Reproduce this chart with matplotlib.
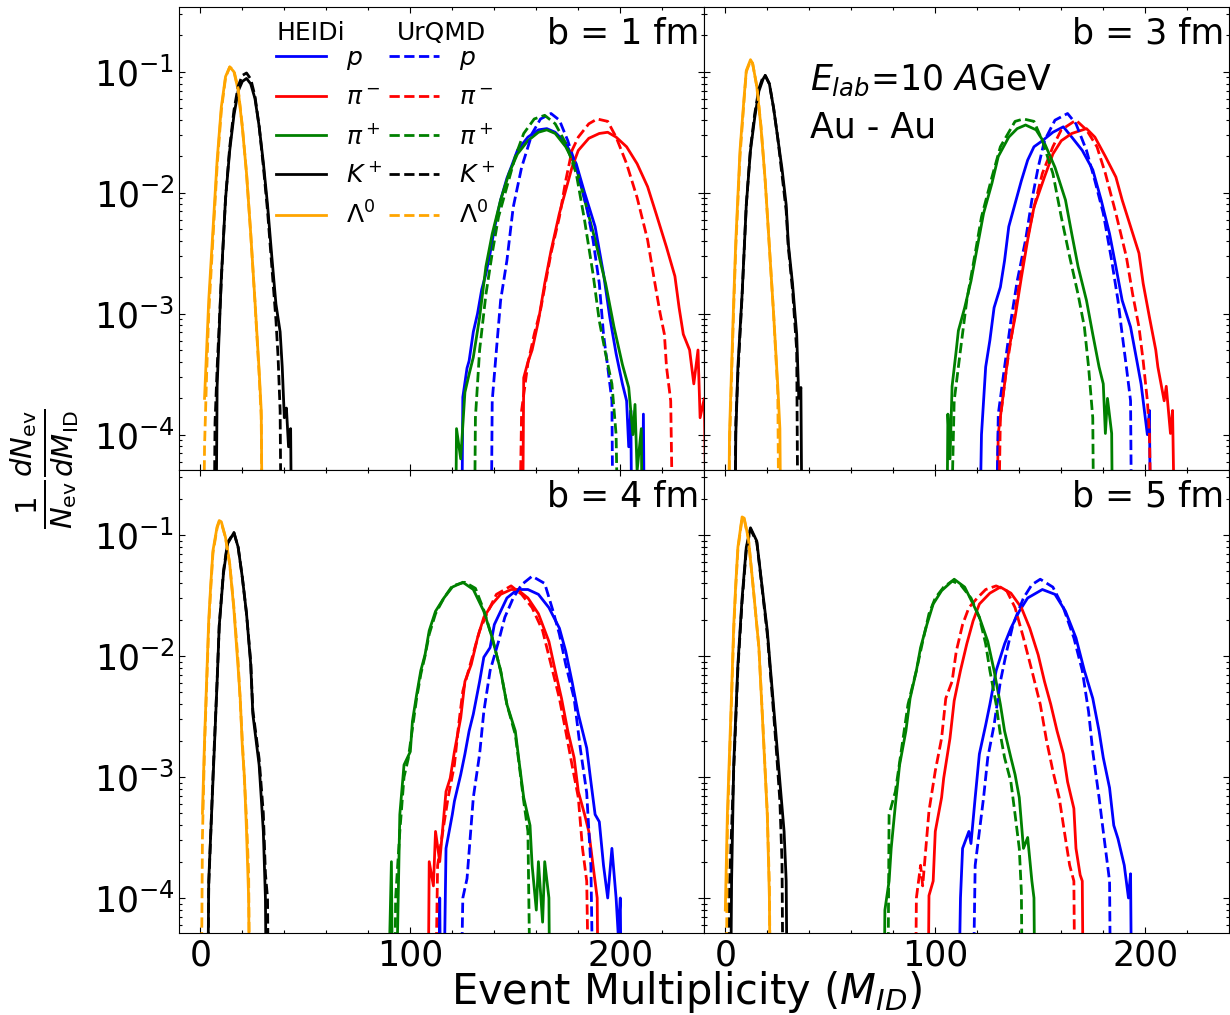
import numpy as np
import matplotlib
matplotlib.use("Agg")
import matplotlib.pyplot as plt
from matplotlib.ticker import MultipleLocator, LogLocator, NullFormatter

# (multiplicity, log10 of 1/N dN/dM); -6 = empty bin (drops below axis)

# ---- b = 1 fm ----
b1_p_heidi = [(124, -6), (125, -3.69), (127, -3.45), (128, -3.39), (130, -3.15), (132, -3.0), (134, -2.8),
              (136, -2.67), (138, -2.5), (140, -2.3), (143, -2.06), (146, -1.88), (148, -1.79), (151, -1.65),
              (156, -1.54), (161, -1.48), (165, -1.47), (169, -1.50), (174, -1.59), (179, -1.76), (183, -2.0),
              (188, -2.28), (192, -2.67), (195, -3.03), (198, -3.33), (201, -3.58), (203, -3.72), (204, -4.1),
              (205, -3.8), (206, -6), (210, -6), (211, -3.83), (212, -6)]
b1_pim_heidi = [(153, -6), (154, -3.53), (156, -3.4), (158, -3.30), (161, -3.06), (164, -2.75), (167, -2.48),
                (171, -2.17), (174, -1.98), (177, -1.79), (180, -1.65), (185, -1.55), (190, -1.51), (194, -1.50),
                (198, -1.54), (203, -1.62), (208, -1.76), (213, -1.95), (217, -2.17), (222, -2.45), (226, -2.69),
                (228, -2.95), (230, -3.17), (233, -3.30), (235, -3.58), (237, -3.3), (238, -3.86), (240, -3.7),
                (242, -6)]
b1_pip_heidi = [(121, -6), (122, -3.95), (124, -4.2), (126, -3.65), (128, -3.5), (130, -3.36), (133, -3.03),
                (136, -2.61), (139, -2.34), (143, -2.06), (147, -1.84), (151, -1.68), (156, -1.57), (161, -1.50),
                (165, -1.48), (169, -1.51), (174, -1.62), (179, -1.79), (183, -2.06), (188, -2.39), (193, -2.75),
                (197, -3.11), (201, -3.42), (204, -3.61), (206, -4.0), (207, -3.75), (208, -4.3), (210, -3.95),
                (211, -6)]
b1_k_heidi = [(7, -6), (8, -3.6), (9, -3.15), (10, -2.7), (12, -2.05), (14, -1.65), (16, -1.36), (18, -1.16),
              (20, -1.08), (22, -1.055), (24, -1.10), (26, -1.22), (28, -1.45), (30, -1.75), (32, -2.1),
              (34, -2.52), (36, -2.92), (38, -3.15), (39, -3.44), (40, -3.86), (41, -3.78), (42, -4.1),
              (43, -3.95), (44, -6)]
b1_lam_heidi = [(2, -3.7), (4, -2.89), (6, -2.31), (8, -1.73), (10, -1.29), (12, -1.04), (14, -0.96), (16, -1.0),
                (18, -1.15), (20, -1.46), (22, -1.84), (24, -2.34), (26, -2.89), (28, -3.47), (29, -3.8), (30, -6)]
b1_p_urqmd = [(138, -6), (139, -3.72), (141, -3.30), (143, -2.89), (146, -2.56), (149, -2.12), (153, -1.79),
              (158, -1.51), (162, -1.39), (167, -1.345), (171, -1.40), (175, -1.57), (180, -1.84), (184, -2.12),
              (187, -2.39), (190, -2.75), (192, -3.17), (194, -3.44), (196, -3.72), (197, -6)]
b1_pim_urqmd = [(151, -6), (153, -3.8), (156, -3.41), (159, -3.17), (162, -2.97), (164, -2.78), (167, -2.50),
                (171, -2.20), (174, -1.90), (177, -1.65), (180, -1.54), (185, -1.43), (189, -1.39), (194, -1.41),
                (198, -1.54), (203, -1.76), (208, -2.04), (213, -2.39), (216, -2.70), (219, -3.0), (221, -3.17),
                (222, -3.44), (224, -3.72), (226, -6)]
b1_pip_urqmd = [(130, -6), (131, -3.86), (133, -3.30), (136, -2.84), (139, -2.50), (142, -2.20), (146, -1.95),
                (150, -1.70), (154, -1.51), (159, -1.39), (164, -1.36), (169, -1.43), (174, -1.59), (179, -1.84),
                (183, -2.23), (187, -2.67), (190, -3.06), (193, -3.33), (196, -3.58), (198, -4.0), (200, -6)]
b1_k_urqmd = [(6, -6), (7, -3.9), (8, -3.45), (10, -2.72), (12, -2.05), (14, -1.62), (16, -1.32), (18, -1.12),
              (20, -1.03), (22, -1.01), (24, -1.06), (26, -1.2), (28, -1.45), (30, -1.78), (32, -2.15),
              (34, -2.6), (36, -3.05), (37, -3.35), (38, -3.8), (39, -6)]
b1_lam_urqmd = [(1, -6), (2, -4.1), (3, -3.5), (4, -3.0), (6, -2.38), (8, -1.78), (10, -1.32), (12, -1.05),
                (14, -0.96), (16, -0.99), (18, -1.14), (20, -1.45), (22, -1.84), (24, -2.34), (26, -2.9),
                (28, -3.5), (29, -3.85), (30, -6)]

# ---- b = 3 fm ----
b3_p_heidi = [(120, -6), (122, -4.0), (124, -3.44), (126, -3.22), (128, -2.95), (131, -2.78), (133, -2.56),
              (135, -2.28), (138, -2.09), (141, -1.90), (144, -1.73), (147, -1.62), (151, -1.57), (156, -1.50),
              (161, -1.455), (165, -1.54), (170, -1.65), (175, -1.81), (179, -2.06), (183, -2.34), (186, -2.61),
              (189, -2.89), (193, -3.11), (196, -3.39), (198, -3.58), (201, -4.0), (202, -3.8), (203, -6)]
b3_pim_heidi = [(128, -6), (130, -3.99), (133, -3.58), (135, -3.30), (138, -3.03), (141, -2.70), (144, -2.39),
                (147, -2.12), (152, -1.87), (156, -1.68), (160, -1.57), (165, -1.51), (172, -1.47), (176, -1.54),
                (181, -1.70), (186, -1.87), (189, -2.06), (193, -2.28), (197, -2.50), (199, -2.75), (202, -3.03),
                (205, -3.30), (206, -3.44), (209, -3.72), (210, -3.6), (212, -3.99), (213, -3.8), (215, -6)]
b3_pip_heidi = [(105, -6), (106, -3.83), (107, -4.2), (108, -3.6), (110, -3.3), (111, -3.14), (114, -2.95),
                (117, -2.73), (120, -2.45), (123, -2.17), (127, -1.92), (130, -1.70), (135, -1.54), (139, -1.47),
                (143, -1.44), (148, -1.48), (152, -1.59), (157, -1.79), (162, -2.06), (165, -2.34), (168, -2.61),
                (172, -2.89), (175, -3.17), (178, -3.44), (180, -3.58), (181, -3.99), (182, -3.7), (184, -3.99),
                (185, -6)]
b3_k_heidi = [(4, -6), (5, -4.0), (6, -3.44), (8, -2.84), (10, -2.1), (12, -1.65), (14, -1.38), (16, -1.16),
              (18, -1.06), (19, -1.03), (21, -1.1), (23, -1.3), (25, -1.55), (27, -1.8), (29, -2.1), (30, -2.42),
              (32, -2.75), (34, -3.17), (35, -3.7), (36, -3.61), (37, -6)]
b3_lam_heidi = [(1, -6), (2, -3.99), (4, -2.89), (5, -2.4), (7, -1.65), (9, -1.2), (10, -0.99), (12, -0.90),
                (13, -0.93), (15, -1.12), (17, -1.46), (19, -1.9), (21, -2.45), (23, -3.0), (25, -3.6), (26, -3.95),
                (27, -6)]
b3_p_urqmd = [(128, -6), (130, -3.83), (133, -3.44), (136, -3.06), (139, -2.73), (143, -2.39), (146, -2.06),
              (149, -1.79), (152, -1.57), (157, -1.40), (163, -1.345), (167, -1.43), (172, -1.65), (176, -1.90),
              (180, -2.17), (184, -2.56), (187, -2.89), (189, -3.17), (191, -3.44), (193, -3.72), (194, -6)]
b3_pim_urqmd = [(129, -6), (131, -3.86), (134, -3.44), (137, -3.11), (140, -2.75), (143, -2.45), (147, -2.12),
                (151, -1.84), (156, -1.62), (160, -1.48), (167, -1.40), (172, -1.48), (177, -1.62), (181, -1.84),
                (186, -2.17), (191, -2.53), (194, -2.84), (197, -3.11), (199, -3.39), (201, -3.72), (202, -4.0),
                (204, -6)]
b3_pip_urqmd = [(106, -6), (109, -3.72), (112, -3.30), (115, -2.89), (119, -2.50), (122, -2.20), (127, -1.87),
                (131, -1.62), (135, -1.50), (138, -1.41), (142, -1.39), (147, -1.41), (151, -1.57), (156, -1.84),
                (160, -2.20), (164, -2.53), (168, -2.84), (171, -3.11), (173, -3.44), (175, -3.86), (176, -6)]
b3_k_urqmd = [(4, -6), (5, -3.9), (6, -3.5), (8, -2.85), (10, -2.1), (12, -1.63), (14, -1.35), (16, -1.14),
              (18, -1.04), (19, -1.03), (21, -1.1), (23, -1.3), (25, -1.55), (27, -1.85), (29, -2.15), (30, -2.45),
              (32, -2.8), (34, -3.3), (35, -6)]
b3_lam_urqmd = [(1, -6), (2, -4.1), (4, -2.95), (5, -2.45), (7, -1.7), (9, -1.22), (10, -1.0), (12, -0.91),
                (13, -0.93), (15, -1.12), (17, -1.45), (19, -1.9), (21, -2.45), (23, -3.0), (25, -3.65), (26, -6)]

# ---- b = 4 fm ----
b4_p_heidi = [(113, -6), (114, -4.0), (115, -6), (117, -3.59), (120, -3.31), (121, -3.20), (124, -2.98),
              (126, -2.81), (128, -2.62), (130, -2.48), (133, -2.21), (135, -2.01), (138, -1.93), (140, -1.74),
              (143, -1.63), (146, -1.52), (151, -1.45), (156, -1.45), (161, -1.49), (166, -1.60), (171, -1.77),
              (174, -1.96), (177, -2.21), (180, -2.48), (184, -2.76), (186, -3.04), (188, -3.31), (190, -3.37),
              (192, -3.73), (194, -4.0), (196, -3.59), (198, -4.0), (199, -4.3), (200, -4.0), (201, -6)]
b4_pim_heidi = [(108, -6), (109, -3.70), (111, -3.9), (112, -3.45), (114, -3.7), (117, -3.12), (119, -3.01),
                (121, -2.79), (124, -2.51), (126, -2.21), (129, -2.07), (132, -1.85), (135, -1.68), (139, -1.57),
                (143, -1.49), (148, -1.45), (151, -1.45), (156, -1.52), (161, -1.65), (166, -1.88), (169, -2.12),
                (172, -2.35), (175, -2.62), (178, -2.84), (180, -3.12), (183, -3.31), (185, -3.45), (187, -3.73),
                (189, -4.0), (190, -6)]
b4_pip_heidi = [(88, -6), (91, -3.70), (92, -6), (95, -3.31), (97, -2.90), (100, -2.79), (101, -2.54),
                (103, -2.32), (105, -2.12), (107, -1.99), (109, -1.79), (112, -1.63), (116, -1.52), (120, -1.43),
                (125, -1.39), (130, -1.45), (135, -1.63), (139, -1.85), (143, -2.12), (146, -2.40), (150, -2.62),
                (152, -2.90), (154, -3.17), (157, -3.40), (158, -3.73), (160, -4.1), (161, -3.7), (163, -4.2),
                (164, -3.7), (166, -4.0), (167, -6)]
b4_k_heidi = [(3, -6), (4, -3.86), (6, -3.04), (8, -2.21), (9, -1.75), (11, -1.32), (13, -1.07), (16, -0.98),
              (18, -1.10), (20, -1.35), (22, -1.65), (24, -2.07), (25, -2.48), (28, -2.90), (29, -3.17),
              (30, -3.45), (31, -4.0), (32, -6)]
b4_lam_heidi = [(1, -3.3), (2, -2.7), (3, -2.2), (4, -1.7), (5, -1.4), (6, -1.13), (8, -0.93), (9, -0.88),
                (10, -0.89), (12, -1.02), (14, -1.24), (16, -1.62), (18, -2.1), (19, -2.35), (20, -2.75),
                (21, -3.0), (22, -3.45), (23, -4.0), (24, -6)]
b4_p_urqmd = [(123, -6), (125, -4.0), (127, -3.84), (130, -3.17), (133, -2.81), (135, -2.46), (138, -2.12),
              (142, -1.88), (145, -1.68), (149, -1.52), (153, -1.41), (158, -1.34), (164, -1.40), (168, -1.63),
              (171, -1.82), (174, -2.07), (178, -2.35), (181, -2.77), (184, -3.13), (186, -3.74), (188, -6)]
b4_pim_urqmd = [(111, -6), (113, -3.73), (116, -3.39), (118, -3.17), (121, -2.90), (123, -2.57), (125, -2.29),
                (129, -2.04), (133, -1.79), (137, -1.63), (141, -1.49), (148, -1.42), (153, -1.49), (158, -1.60),
                (163, -1.79), (167, -2.07), (171, -2.35), (174, -2.62), (177, -2.90), (180, -3.17), (182, -3.59),
                (184, -3.86), (186, -6)]
b4_pip_urqmd = [(92, -6), (93, -4.0), (95, -3.45), (97, -3.0), (99, -2.85), (101, -2.6), (103, -2.35),
                (105, -2.15), (107, -2.0), (109, -1.82), (112, -1.65), (116, -1.52), (120, -1.42), (126, -1.39),
                (131, -1.44), (135, -1.62), (139, -1.85), (143, -2.12), (146, -2.40), (150, -2.65), (152, -2.92),
                (154, -3.2), (156, -3.45), (158, -6)]
b4_k_urqmd = [(3, -6), (4, -3.9), (6, -3.0), (8, -2.2), (9, -1.75), (11, -1.3), (13, -1.06), (16, -0.98),
              (18, -1.1), (20, -1.35), (22, -1.65), (24, -2.05), (25, -2.45), (28, -2.85), (30, -3.3), (31, -3.8),
              (32, -4.0), (33, -6)]
b4_lam_urqmd = [(0, -6), (1, -3.5), (2, -2.75), (3, -2.25), (4, -1.75), (5, -1.43), (6, -1.15), (8, -0.94),
                (9, -0.89), (10, -0.9), (12, -1.02), (14, -1.24), (16, -1.6), (18, -2.05), (20, -2.7), (22, -3.35),
                (23, -3.8), (24, -6)]

# ---- b = 5 fm ----
b5_p_heidi = [(110, -6), (112, -4.0), (113, -3.59), (116, -3.45), (117, -3.55), (119, -3.17), (121, -2.81),
              (124, -2.57), (126, -2.40), (129, -2.12), (133, -1.90), (136, -1.77), (140, -1.63), (144, -1.52),
              (151, -1.45), (157, -1.49), (162, -1.63), (167, -1.85), (171, -2.12), (175, -2.35), (178, -2.62),
              (180, -2.84), (183, -3.09), (185, -3.40), (187, -3.51), (190, -3.73), (192, -4.0), (193, -3.8),
              (194, -6)]
b5_pim_heidi = [(96, -6), (97, -3.98), (99, -3.86), (100, -3.45), (103, -3.17), (104, -3.01), (107, -2.68),
                (109, -2.37), (112, -2.12), (115, -1.90), (118, -1.71), (121, -1.57), (126, -1.48), (131, -1.43),
                (136, -1.48), (141, -1.60), (145, -1.77), (149, -1.99), (152, -2.21), (155, -2.40), (158, -2.62),
                (161, -2.81), (163, -3.04), (166, -3.26), (167, -3.59), (169, -3.81), (170, -3.86), (171, -6)]
b5_pip_heidi = [(75, -6), (76, -4.1), (78, -3.86), (79, -3.59), (81, -3.23), (83, -2.90), (86, -2.62),
                (88, -2.35), (91, -2.12), (93, -1.93), (96, -1.74), (99, -1.57), (103, -1.46), (109, -1.365),
                (114, -1.43), (118, -1.57), (121, -1.68), (125, -1.88), (128, -2.12), (131, -2.40), (133, -2.62),
                (136, -2.84), (138, -2.98), (140, -3.17), (142, -3.59), (144, -3.5), (146, -3.86), (147, -4.0),
                (148, -6)]
b5_k_heidi = [(2, -6), (3, -3.86), (4, -2.90), (6, -2.07), (8, -1.52), (10, -1.10), (12, -0.94), (15, -1.05),
              (17, -1.35), (20, -1.79), (22, -2.21), (24, -2.62), (26, -3.04), (28, -3.45), (29, -3.86), (30, -6)]
b5_lam_heidi = [(0, -4.1), (1, -3.3), (3, -2.3), (4, -1.75), (5, -1.4), (6, -1.1), (8, -0.85), (9, -0.86),
                (11, -1.03), (13, -1.38), (16, -1.93), (18, -2.62), (20, -3.31), (21, -4.0), (22, -6)]
b5_p_urqmd = [(117, -6), (119, -3.73), (121, -3.45), (123, -3.17), (125, -2.84), (128, -2.57), (131, -2.21),
              (134, -1.96), (137, -1.74), (142, -1.52), (146, -1.41), (150, -1.365), (156, -1.43), (161, -1.60),
              (166, -1.85), (170, -2.12), (173, -2.46), (175, -2.79), (178, -3.17), (180, -3.45), (183, -3.86),
              (184, -6)]
b5_pim_urqmd = [(90, -6), (91, -4.0), (93, -3.73), (94, -3.9), (97, -3.28), (100, -2.95), (103, -2.68),
                (105, -2.35), (108, -2.21), (110, -1.96), (113, -1.74), (116, -1.60), (120, -1.52), (124, -1.45),
                (129, -1.42), (134, -1.46), (138, -1.60), (142, -1.85), (146, -2.12), (150, -2.40), (153, -2.70),
                (156, -2.95), (159, -3.17), (162, -3.51), (164, -3.73), (166, -3.86), (167, -6)]
b5_pip_urqmd = [(77, -6), (78, -3.31), (81, -3.12), (84, -2.76), (87, -2.40), (91, -2.12), (94, -1.88),
                (97, -1.65), (100, -1.52), (104, -1.43), (108, -1.38), (112, -1.41), (117, -1.52), (121, -1.68),
                (124, -1.90), (126, -2.12), (129, -2.40), (131, -2.65), (133, -2.84), (136, -3.04), (138, -3.31),
                (140, -3.59), (141, -3.95), (142, -6)]
b5_k_urqmd = [(1, -6), (2, -3.9), (4, -2.95), (6, -2.1), (8, -1.55), (10, -1.12), (12, -0.95), (15, -1.06),
              (17, -1.36), (20, -1.82), (22, -2.25), (24, -2.7), (26, -3.2), (27, -3.7), (28, -6)]
b5_lam_urqmd = [(0, -6), (1, -3.4), (3, -2.35), (4, -1.8), (5, -1.42), (6, -1.12), (8, -0.86), (9, -0.87),
                (11, -1.03), (13, -1.38), (16, -1.93), (18, -2.6), (20, -3.3), (21, -3.9), (22, -6)]

species = ["p", "pim", "pip", "k", "lam"]
species_labels = [r"$p$", r"$\pi^-$", r"$\pi^+$", r"$K^+$", r"$\Lambda^0$"]
colors = ["blue", "red", "green", "black", "orange"]
panel_titles = ["b = 1 fm", "b = 3 fm", "b = 4 fm", "b = 5 fm"]
panels = [
    {"heidi": [b1_p_heidi, b1_pim_heidi, b1_pip_heidi, b1_k_heidi, b1_lam_heidi],
     "urqmd": [b1_p_urqmd, b1_pim_urqmd, b1_pip_urqmd, b1_k_urqmd, b1_lam_urqmd]},
    {"heidi": [b3_p_heidi, b3_pim_heidi, b3_pip_heidi, b3_k_heidi, b3_lam_heidi],
     "urqmd": [b3_p_urqmd, b3_pim_urqmd, b3_pip_urqmd, b3_k_urqmd, b3_lam_urqmd]},
    {"heidi": [b4_p_heidi, b4_pim_heidi, b4_pip_heidi, b4_k_heidi, b4_lam_heidi],
     "urqmd": [b4_p_urqmd, b4_pim_urqmd, b4_pip_urqmd, b4_k_urqmd, b4_lam_urqmd]},
    {"heidi": [b5_p_heidi, b5_pim_heidi, b5_pip_heidi, b5_k_heidi, b5_lam_heidi],
     "urqmd": [b5_p_urqmd, b5_pim_urqmd, b5_pip_urqmd, b5_k_urqmd, b5_lam_urqmd]},
]


def xy(curve):
    arr = np.array(curve, dtype=float)
    return arr[:, 0], 10.0 ** arr[:, 1]


fig, axes = plt.subplots(2, 2, figsize=(12.3, 10.15), dpi=100, sharex=True, sharey=True)
fig.subplots_adjust(left=0.1458, right=0.9994, top=0.9934, bottom=0.0805, hspace=0, wspace=0)

lw = 2.0
for i, ax in enumerate(axes.flat):
    panel = panels[i]
    h_lines, u_lines = [], []
    for j in range(len(species)):
        x, y = xy(panel["heidi"][j])
        ln, = ax.plot(x, y, color=colors[j], lw=lw, ls="-")
        h_lines.append(ln)
    for j in range(len(species)):
        x, y = xy(panel["urqmd"][j])
        ln, = ax.plot(x, y, color=colors[j], lw=lw, ls="--")
        u_lines.append(ln)

    ax.set_yscale("log")
    ax.set_xlim(-10, 240)
    ax.set_ylim(10 ** -4.292, 10 ** -0.462)
    ax.xaxis.set_major_locator(MultipleLocator(100))
    ax.xaxis.set_minor_locator(MultipleLocator(20))
    ax.yaxis.set_major_locator(LogLocator(base=10, numticks=10))
    ax.yaxis.set_minor_locator(LogLocator(base=10, subs=np.arange(2, 10), numticks=20))
    ax.yaxis.set_minor_formatter(NullFormatter())
    ax.tick_params(which="both", direction="in", top=True, right=True, labelsize=25)
    ax.tick_params(which="major", length=4.5, width=0.8)
    ax.tick_params(which="minor", length=2.5, width=0.8)

    ax.text(0.99, 0.943, panel_titles[i], transform=ax.transAxes, ha="right", va="center", fontsize=25)

    if i == 0:
        ax.legend(h_lines + u_lines, species_labels + species_labels, ncol=2, loc="upper left",
                  bbox_to_anchor=(0.184, 0.915), frameon=False, fontsize=18, borderpad=0,
                  borderaxespad=0, handlelength=2.0, handletextpad=0.8, columnspacing=0.25,
                  labelspacing=0.55)
        ax.text(0.186, 0.943, "HEIDi", transform=ax.transAxes, ha="left", va="center", fontsize=18)
        ax.text(0.4135, 0.943, "UrQMD", transform=ax.transAxes, ha="left", va="center", fontsize=18)
    if i == 1:
        ax.text(0.201, 0.842, r"$E_{lab}$=10 $A$GeV", transform=ax.transAxes, ha="left", va="center",
                fontsize=25)
        ax.text(0.201, 0.74, "Au - Au", transform=ax.transAxes, ha="left", va="center", fontsize=25)

fig.text(0.558, 0.0227, r"Event Multiplicity ($M_{ID}$)", ha="center", va="center", fontsize=30)
fig.text(0.036, 0.538, r"$\frac{1}{N_{\rm ev}}\frac{dN_{\rm ev}}{dM_{\rm ID}}$", rotation=90,
         ha="center", va="center", fontsize=30)

fig.savefig("out.png", dpi=100)
